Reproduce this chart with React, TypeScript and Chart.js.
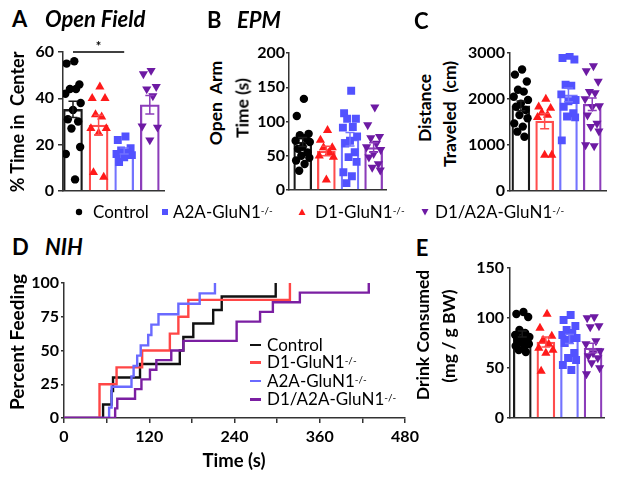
import React, { useEffect, useRef } from 'react';
import { Chart, registerables } from 'chart.js';
Chart.register(...registerables);

// ---------- data ----------
// group order in bar panels: Control, D1-GluN1-/-, A2A-GluN1-/-, D1/A2A-GluN1-/-
const A_MEAN = [35.2, 28.5, 17.3, 37.2];
const A_SEM = [3.5, 4.2, 1.3, 4.0];
const A_CONTROL = [56, 55, 46, 44, 44, 42, 38, 35, 31, 30, 27, 19, 16, 5];
const A_D1 = [45, 40, 40, 33, 32, 27, 27, 25, 8, 6];
const A_A2A = [23.5, 22, 18.5, 17.5, 16.5, 16, 15.5, 14.5, 12.5];
const A_D1A2A = [52, 50.5, 45, 44, 41, 28, 27.5, 22];

const B_MEAN = [70, 57, 74, 62];
const B_SEM = [6.5, 7, 9.8, 7];
const B_CONTROL = [133, 108, 82, 80, 76, 72, 70, 63, 60, 55, 50, 47, 43, 38, 28];
const B_D1 = [87, 73, 62, 62, 55, 50, 48, 15];
const B_A2A = [145, 112, 104, 104, 92, 91, 78, 72, 68, 55, 48, 41, 26, 20, 10];
const B_D1A2A = [121, 95, 78, 76, 68, 63, 59, 53, 48, 38, 33, 29];

const C_MEAN = [1850, 1520, 2090, 1886];
const C_SEM = [105, 165, 150, 135];
const C_CONTROL = [2640, 2530, 2380, 2200, 2160, 2050, 1980, 1900, 1830, 1760, 1650, 1580, 1470, 1400, 1290, 1180];
const C_D1 = [2000, 1830, 1800, 1700, 1650, 1600, 780, 780];
const C_A2A = [2940, 2890, 2860, 2310, 2290, 2100, 1980, 1950, 1830, 1690, 1620, 1600, 1100];
const C_D1A2A = [2720, 2610, 2380, 2160, 2130, 2000, 1850, 1830, 1650, 1470, 1400, 1300, 1000, 980];

const E_MEAN = [84, 76, 79, 70];
const E_SEM = [3, 5, 4.5, 4.8];
const E_CONTROL = [106, 104, 101, 88, 85, 83, 81, 79, 78, 77, 76, 74, 72, 70, 68, 66];
const E_D1 = [104, 90, 82, 78, 74, 70, 68, 65, 47];
const E_A2A = [103, 98, 92, 88, 85, 83, 80, 78, 75, 65, 60, 58, 53, 48];
const E_D1A2A = [101, 100, 92, 91, 77, 74, 67, 65, 62, 60, 55, 50, 44];

// NIH latency curves (time s -> cumulative percent feeding)
const D_CONTROL_T = [55, 67, 69, 107, 163, 168, 182, 210, 222, 298];
const D_CONTROL_P = [10, 20, 30, 40, 50, 60, 70, 80, 90, 100];
const D_D1_T = [50, 74, 110, 149, 161, 175, 318];
const D_D1_P = [25, 37.5, 50, 62.5, 75, 87.5, 100];
const D_A2A_T = [63.5, 67, 95, 98, 103, 108, 118.5, 123, 133, 161, 191, 212.5];
const D_A2A_P = [7.7, 23.1, 30.8, 38.5, 46.2, 53.8, 61.5, 69.2, 76.9, 84.6, 92.3, 100];
const D_D1A2A_T = [72, 75, 100, 109, 121, 130, 151, 168, 243, 276, 294, 332, 429];
const D_D1A2A_P = [7.1, 14.3, 21.4, 28.6, 35.7, 42.9, 50, 57.1, 71.4, 78.6, 85.7, 92.9, 100];

const SIG_A = { from: 0, to: 2, y: 60, label: '*' };

// ---------- styles ----------
const FONT = 'Lato, "Open Sans", sans-serif';
const PT_COL = ['#000000', '#ff1a1a', '#5252ff', '#6d1aa3'];
const BAR_COL = ['#1a1a1a', '#ff4d4d', '#7373ff', '#8c3dba'];
const LINE_COL = ['#111111', '#ff4646', '#6a6aff', '#7b1fa2'];
const SHAPES = ['circle', 'triangle', 'rect', 'triangle'];
const ROT = [0, 0, 0, 180];
const RADIUS = [4.2, 5.3, 5.6, 5.3];
const AXIS = '#333333';
const JITTER = [0.05, -0.25, 0.25, -0.12, 0.12, -0.3, 0.3, 0, -0.2, 0.2, -0.06, 0.28, -0.28, 0.08, -0.15, 0.15, -0.02];

function errorBars(means: number[], sems: number[]) {
  return {
    id: 'errbars',
    afterDatasetsDraw(chart: any) {
      const { ctx, scales } = chart;
      const x = scales.x, y = scales.y;
      ctx.save();
      ctx.lineWidth = 1.5;
      means.forEach((m, i) => {
        const px = x.getPixelForValue(i);
        const top = y.getPixelForValue(m + sems[i]);
        const bot = y.getPixelForValue(m - sems[i]);
        ctx.strokeStyle = BAR_COL[i];
        ctx.beginPath();
        ctx.moveTo(px, top); ctx.lineTo(px, bot);
        ctx.moveTo(px - 4.5, top); ctx.lineTo(px + 4.5, top);
        ctx.moveTo(px - 4.5, bot); ctx.lineTo(px + 4.5, bot);
        ctx.stroke();
      });
      ctx.restore();
    },
  };
}

const sigPlugin = {
  id: 'sig',
  afterDatasetsDraw(chart: any) {
    const { ctx, scales } = chart;
    const x = scales.x, y = scales.y;
    const yy = y.getPixelForValue(SIG_A.y);
    const x1 = x.getPixelForValue(SIG_A.from), x2 = x.getPixelForValue(SIG_A.to);
    ctx.save();
    ctx.strokeStyle = '#000';
    ctx.lineWidth = 1.3;
    ctx.beginPath(); ctx.moveTo(x1, yy); ctx.lineTo(x2, yy); ctx.stroke();
    ctx.fillStyle = '#000';
    ctx.font = `bold 13px ${FONT}`;
    ctx.textAlign = 'center';
    ctx.textBaseline = 'alphabetic';
    ctx.fillText(SIG_A.label, (x1 + x2) / 2, yy - 1.5);
    ctx.restore();
  },
};

type BarPanel = {
  means: number[]; sems: number[]; groups: number[][];
  yMax: number; yStep: number; xMin: number; xMax: number;
  yAxisW: number; tickPad: number; tickLen: number; barW: number;
};

function barConfig(p: BarPanel, extra: any[] = []): any {
  const scatter = p.groups.map((vals, g) => ({
    type: 'scatter',
    showLine: false,
    data: vals.map((v, k) => ({ x: g + JITTER[k % JITTER.length], y: v })),
    pointStyle: SHAPES[g],
    pointRotation: ROT[g],
    rotation: ROT[g],
    pointRadius: RADIUS[g],
    pointHoverRadius: RADIUS[g],
    pointBackgroundColor: PT_COL[g],
    pointBorderColor: PT_COL[g],
    pointBorderWidth: 0,
    backgroundColor: PT_COL[g],
    borderColor: PT_COL[g],
    borderWidth: 0,
  }));
  const bar = {
    type: 'bar',
    data: p.means.map((m, i) => ({ x: i, y: m })),
    backgroundColor: 'rgba(255,255,255,0)',
    borderColor: BAR_COL,
    borderWidth: 1.6,
    barThickness: p.barW,
    borderSkipped: 'start',
  };
  return {
    type: 'bar',
    data: { datasets: [...scatter, bar] },
    options: {
      responsive: false, maintainAspectRatio: false, animation: false,
      layout: { padding: { top: 20, left: 0, right: 0, bottom: 0 } },
      plugins: { legend: { display: false }, tooltip: { enabled: false } },
      scales: {
        x: {
          type: 'linear', min: p.xMin, max: p.xMax, offset: false,
          ticks: { display: false },
          grid: { display: true, drawOnChartArea: false, drawTicks: false, offset: false },
          border: { color: AXIS, width: 1.5 },
          afterFit: (s: any) => { s.height = 20; },
        },
        y: {
          type: 'linear', min: 0, max: p.yMax,
          ticks: {
            stepSize: p.yStep, font: { family: FONT, size: 16, weight: 'bold' }, color: '#000', padding: p.tickPad,
            callback: (v: any) => String(v),
          },
          grid: { display: true, drawOnChartArea: false, tickLength: p.tickLen, color: AXIS, lineWidth: 1.5 },
          border: { color: AXIS, width: 1.5 },
          afterFit: (s: any) => { s.width = p.yAxisW; },
        },
      },
    },
    plugins: [errorBars(p.means, p.sems), ...extra],
  };
}

function nihConfig(): any {
  const curves = [
    { t: D_D1A2A_T, p: D_D1A2A_P, c: LINE_COL[3] },
    { t: D_A2A_T, p: D_A2A_P, c: LINE_COL[2] },
    { t: D_D1_T, p: D_D1_P, c: LINE_COL[1] },
    { t: D_CONTROL_T, p: D_CONTROL_P, c: LINE_COL[0] },
  ];
  return {
    type: 'line',
    data: {
      datasets: curves.map((cv) => ({
        data: [{ x: 0, y: 0 }, ...cv.t.map((t, i) => ({ x: t, y: cv.p[i] }))],
        borderColor: cv.c, borderWidth: 2.4, pointRadius: 0, stepped: 'before', fill: false,
      })),
    },
    options: {
      responsive: false, maintainAspectRatio: false, animation: false,
      layout: { padding: { top: 20, left: 0, right: 30, bottom: 0 } },
      plugins: { legend: { display: false }, tooltip: { enabled: false } },
      scales: {
        x: {
          type: 'linear', min: 0, max: 480,
          ticks: {
            stepSize: 60, autoSkip: false, maxRotation: 0, padding: 4,
            font: { family: FONT, size: 16, weight: 'bold' }, color: '#000',
            callback: (v: any) => (v % 120 === 0 ? String(v) : ''),
          },
          grid: { display: true, drawOnChartArea: false, tickLength: 5, color: AXIS, lineWidth: 1.5 },
          border: { color: AXIS, width: 1.5 },
          afterFit: (s: any) => { s.height = 36; },
        },
        y: {
          type: 'linear', min: 0, max: 100,
          ticks: { stepSize: 25, padding: 2, font: { family: FONT, size: 16, weight: 'bold' }, color: '#000' },
          grid: { display: true, drawOnChartArea: false, tickLength: 3, color: AXIS, lineWidth: 1.5 },
          border: { color: AXIS, width: 1.5 },
          afterFit: (s: any) => { s.width = 64; },
        },
      },
    },
  };
}

function ChartBox({ left, top, width, height, make }: any) {
  const ref = useRef<HTMLCanvasElement>(null);
  useEffect(() => {
    const chart = new Chart(ref.current as HTMLCanvasElement, make());
    return () => chart.destroy();
  }, []);
  return (
    <canvas ref={ref} width={width} height={height}
      style={{ position: 'absolute', left, top, width, height }} />
  );
}

function Txt({ x, cy, size, weight = 'normal', italic = false, center = false, children }: any) {
  return (
    <div style={{
      position: 'absolute', left: x, top: cy - size * 0.6, fontSize: size, lineHeight: `${size * 1.2}px`,
      fontWeight: weight, fontStyle: italic ? 'italic' : 'normal', whiteSpace: 'pre',
      transform: center ? 'translateX(-50%)' : undefined, color: '#000',
    }}>{children}</div>
  );
}

function RTxt({ cx, cy, size, weight = 'bold', children }: any) {
  return (
    <div style={{
      position: 'absolute', left: cx, top: cy, fontSize: size, lineHeight: `${size * 1.2}px`,
      fontWeight: weight, whiteSpace: 'pre', color: '#000',
      transform: 'translate(-50%,-50%) rotate(-90deg)',
    }}>{children}</div>
  );
}

const Sup = () => <sup style={{ fontSize: 10, verticalAlign: 'top', position: 'relative', top: -2 }}>-/-</sup>;

function Marker({ cx, cy, g }: any) {
  const s = 10;
  let shape: any = null;
  if (g === 0) shape = <circle cx={5} cy={5} r={3.2} fill={PT_COL[0]} />;
  if (g === 2) shape = <rect x={2} y={2} width={6} height={6} fill={PT_COL[2]} />;
  if (g === 1) shape = <polygon points="5,1.5 8.5,8 1.5,8" fill={PT_COL[1]} />;
  if (g === 3) shape = <polygon points="1.5,2 8.5,2 5,8.5" fill={PT_COL[3]} />;
  return (
    <svg width={s} height={s} style={{ position: 'absolute', left: cx - 5, top: cy - 5 }}>{shape}</svg>
  );
}

export default function App() {
  const pA: BarPanel = { means: A_MEAN, sems: A_SEM, groups: [A_CONTROL, A_D1, A_A2A, A_D1A2A], yMax: 60, yStep: 20, xMin: -0.39, xMax: 3.57, yAxisW: 63, tickPad: 4, tickLen: 5, barW: 19 };
  const pB: BarPanel = { means: B_MEAN, sems: B_SEM, groups: [B_CONTROL, B_D1, B_A2A, B_D1A2A], yMax: 200, yStep: 50, xMin: -0.58, xMax: 3.54, yAxisW: 59, tickPad: 1, tickLen: 3, barW: 18 };
  const pC: BarPanel = { means: C_MEAN, sems: C_SEM, groups: [C_CONTROL, C_D1, C_A2A, C_D1A2A], yMax: 3000, yStep: 1000, xMin: -0.457, xMax: 3.595, yAxisW: 50, tickPad: 2, tickLen: 3, barW: 18 };
  const pE: BarPanel = { means: E_MEAN, sems: E_SEM, groups: [E_CONTROL, E_D1, E_A2A, E_D1A2A], yMax: 150, yStep: 50, xMin: -0.52, xMax: 3.48, yAxisW: 50, tickPad: 3, tickLen: 3, barW: 18 };

  const legRows = [
    { label: 'Control', sup: false, c: LINE_COL[0], cy: 345 },
    { label: 'D1-GluN1', sup: true, c: LINE_COL[1], cy: 362.5 },
    { label: 'A2A-GluN1', sup: true, c: LINE_COL[2], cy: 381 },
    { label: 'D1/A2A-GluN1', sup: true, c: LINE_COL[3], cy: 399.5 },
  ];

  return (
    <div style={{ position: 'absolute', left: 0, top: 0, width: 621, height: 479, background: '#fff', fontFamily: FONT, overflow: 'hidden' }}>
      <ChartBox left={0} top={32} width={170} height={179} make={() => barConfig(pA, [sigPlugin])} />
      <ChartBox left={230} top={33} width={162} height={177} make={() => barConfig(pB)} />
      <ChartBox left={460} top={33} width={152} height={178} make={() => barConfig(pC)} />
      <ChartBox left={0} top={263} width={435} height={191} make={nihConfig} />
      <ChartBox left={460} top={248} width={150} height={190} make={() => barConfig(pE)} />

      {/* panel letters and titles */}
      <Txt x={12} cy={19} size={22} weight="bold">A</Txt>
      <Txt x={45} cy={19} size={22} weight="bold" italic>Open Field</Txt>
      <Txt x={207} cy={20} size={22} weight="bold">B</Txt>
      <Txt x={237} cy={20} size={22} weight="bold" italic>EPM</Txt>
      <Txt x={414} cy={21} size={22} weight="bold">C</Txt>
      <Txt x={12} cy={247.5} size={22} weight="bold">D</Txt>
      <Txt x={45} cy={247.5} size={22} weight="bold" italic>NIH</Txt>
      <Txt x={422} cy={248} size={22} weight="bold" center>E</Txt>

      {/* axis titles */}
      <RTxt cx={18} cy={122} size={18}>{'% Time in  Center'}</RTxt>
      <RTxt cx={215} cy={103} size={17.5}>{'Open  Arm'}</RTxt>
      <RTxt cx={242} cy={108} size={17.5}>{'Time (s)'}</RTxt>
      <RTxt cx={424} cy={108} size={17.5}>{'Distance'}</RTxt>
      <RTxt cx={449} cy={114} size={17.5}>{'Traveled  (cm)'}</RTxt>
      <RTxt cx={17} cy={342} size={19}>{'Percent Feeding'}</RTxt>
      <Txt x={234} cy={460} size={18.5} weight="bold" center>Time (s)</Txt>
      <RTxt cx={421.5} cy={335} size={17.5}>{'Drink Consumed'}</RTxt>
      <RTxt cx={447.5} cy={336} size={17.5}>{'(mg / g BW)'}</RTxt>

      {/* shared legend */}
      <Marker cx={79} cy={212} g={0} />
      <Txt x={93} cy={212} size={17}>Control</Txt>
      <Marker cx={165} cy={212} g={2} />
      <Txt x={173} cy={212} size={17}>A2A-GluN1<Sup /></Txt>
      <Marker cx={302} cy={212} g={1} />
      <Txt x={315} cy={212} size={17}>D1-GluN1<Sup /></Txt>
      <Marker cx={425} cy={212} g={3} />
      <Txt x={435} cy={212} size={17}>D1/A2A-GluN1<Sup /></Txt>

      {/* NIH legend */}
      {legRows.map((r) => (
        <React.Fragment key={r.label}>
          <div style={{ position: 'absolute', left: 250, top: r.cy - 1.25, width: 11, height: 2.5, background: r.c }} />
          <Txt x={267} cy={r.cy} size={17}>{r.label}{r.sup ? <Sup /> : null}</Txt>
        </React.Fragment>
      ))}
    </div>
  );
}
